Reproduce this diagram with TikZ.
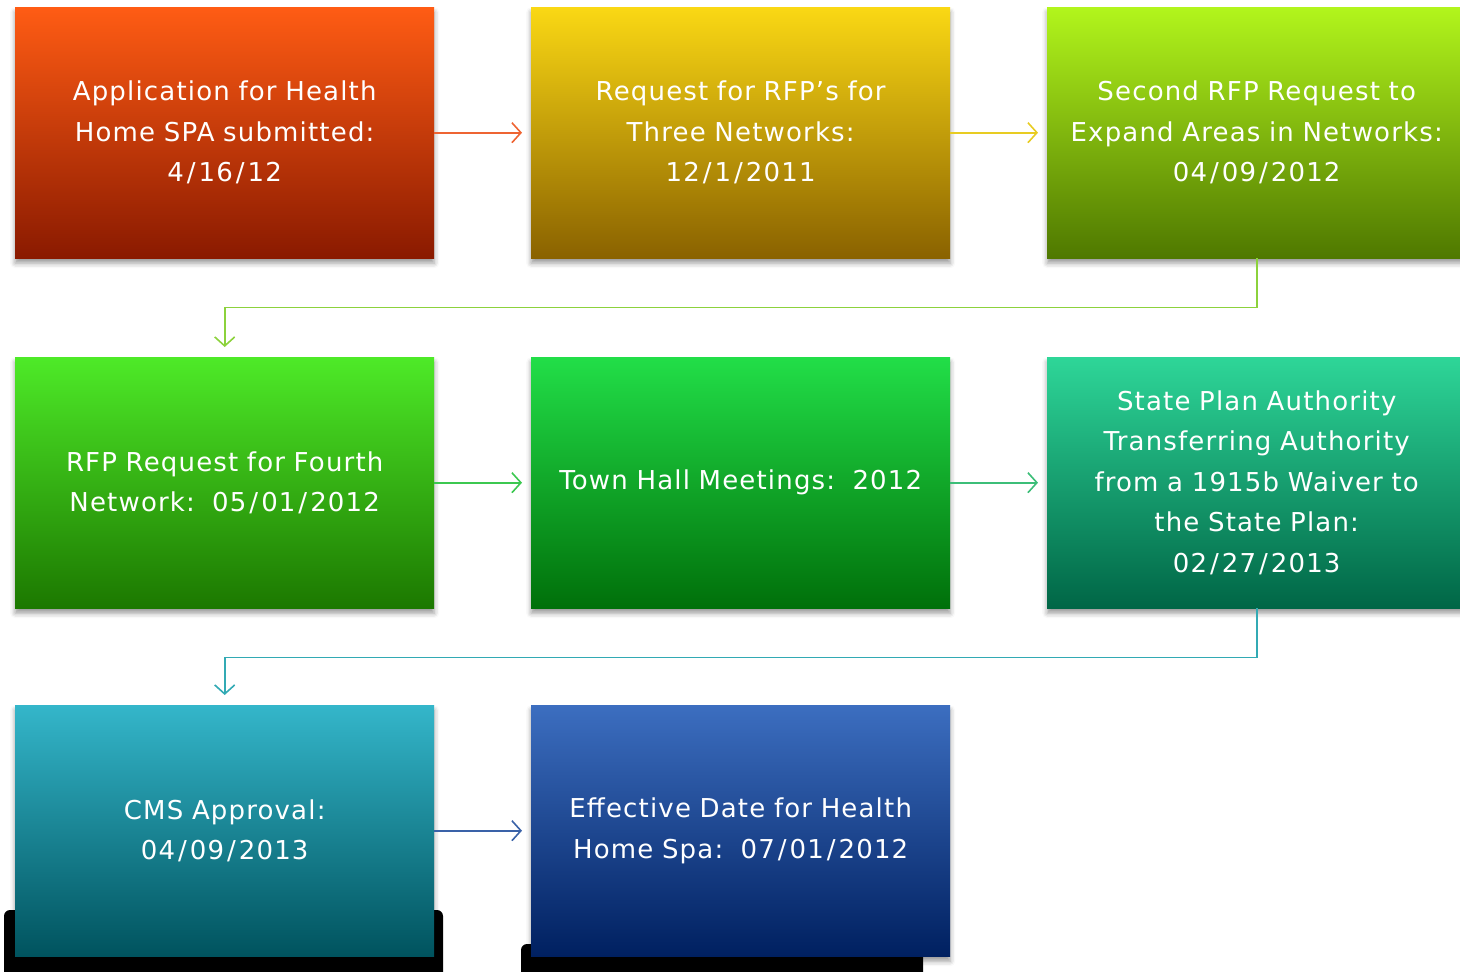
\documentclass[tikz,border=0pt]{standalone}
\usepackage{fontspec}
\setmainfont[LetterSpace=4.5]{DejaVu Sans}
\usetikzlibrary{arrows.meta,shadows.blur}

% slash with extra room, as in the dates
\newcommand{\dateslash}{\kern3pt/\kern3pt}

% box gradients (top / bottom)
\definecolor{aTop}{HTML}{FF5C14}\definecolor{aBot}{HTML}{8A1A00}
\definecolor{bTop}{HTML}{FAD814}\definecolor{bBot}{HTML}{8A6200}
\definecolor{cTop}{HTML}{B2F51C}\definecolor{cBot}{HTML}{4F7800}
\definecolor{dTop}{HTML}{4EEA28}\definecolor{dBot}{HTML}{1C7800}
\definecolor{eTop}{HTML}{22DE48}\definecolor{eBot}{HTML}{00700A}
\definecolor{fTop}{HTML}{2ED698}\definecolor{fBot}{HTML}{006646}
\definecolor{gTop}{HTML}{34B6CA}\definecolor{gBot}{HTML}{00535E}
\definecolor{hTop}{HTML}{3C6EC0}\definecolor{hBot}{HTML}{002060}
% connector colours
\definecolor{lnA}{HTML}{EE6432}
\definecolor{lnB}{HTML}{E8CC22}
\definecolor{lnC}{HTML}{8CD23C}
\definecolor{lnD}{HTML}{3CC850}
\definecolor{lnE}{HTML}{3CBE78}
\definecolor{lnF}{HTML}{32AAB4}
\definecolor{lnG}{HTML}{3A62A8}

\begin{document}
\begin{tikzpicture}[x=1pt,y=-1pt,
  stage/.style={rectangle, minimum width=419pt, minimum height=251pt,
    anchor=north west, inner sep=0pt, text width=412pt, align=center,
    text=white, font=\fontsize{26}{40.5}\selectfont,
    blur shadow={shadow xshift=0pt, shadow yshift=-5pt,
      shadow blur radius=5pt, shadow opacity=40}},
  flow/.style={line width=1.6pt,
    -{Straight Barb[length=9pt,width=20pt,line width=1.6pt]}},
]
\useasboundingbox (0,0) rectangle (1460,972);

% dark base slabs under the last row
\fill[black, rounded corners=6pt] (4,910) rectangle (443,985);
\fill[black, rounded corners=6pt] (521,944) rectangle (923,985);

% row 1
\node[stage, top color=aTop, bottom color=aBot] (n1) at (15,7)
  {Application for Health\\Home SPA submitted:\\4\dateslash16\dateslash12};
\node[stage, top color=bTop, bottom color=bBot] (n2) at (531,7)
  {Request for RFP’s for\\Three Networks:\\12\dateslash1\dateslash2011};
\node[stage, top color=cTop, bottom color=cBot] (n3) at (1047,7)
  {Second RFP Request to\\Expand Areas in Networks:\\04\dateslash09\dateslash2012};

% row 2
\node[stage, top color=dTop, bottom color=dBot] (n4) at (15,357)
  {RFP Request for Fourth\\Network:\ \ 05\dateslash01\dateslash2012};
\node[stage, top color=eTop, bottom color=eBot] (n5) at (531,357)
  {Town Hall Meetings:\ \ 2012};
\node[stage, top color=fTop, bottom color=fBot] (n6) at (1047,357)
  {State Plan Authority\\Transferring Authority\\from a 1915b Waiver to\\the State Plan:\\02\dateslash27\dateslash2013};

% row 3
\node[stage, top color=gTop, bottom color=gBot] (n7) at (15,705)
  {CMS Approval:\\04\dateslash09\dateslash2013};
\node[stage, top color=hTop, bottom color=hBot] (n8) at (531,705)
  {Effective Date for Health\\Home Spa:\ \ 07\dateslash01\dateslash2012};

% connectors
\draw[flow, lnA, shorten >=9pt] (n1.east) -- (n2.west);
\draw[flow, lnB, shorten >=9pt] (n2.east) -- (n3.west);
\draw[flow, lnC, shorten >=10pt] (n3.south) -- ++(0,49) -| (n4.north);
\draw[flow, lnD, shorten >=9pt] (n4.east) -- (n5.west);
\draw[flow, lnE, shorten >=9pt] (n5.east) -- (n6.west);
\draw[flow, lnF, shorten >=10pt] (n6.south) -- ++(0,49) -| (n7.north);
\draw[flow, lnG, shorten >=9pt] (n7.east) -- (n8.west);
\end{tikzpicture}
\end{document}
